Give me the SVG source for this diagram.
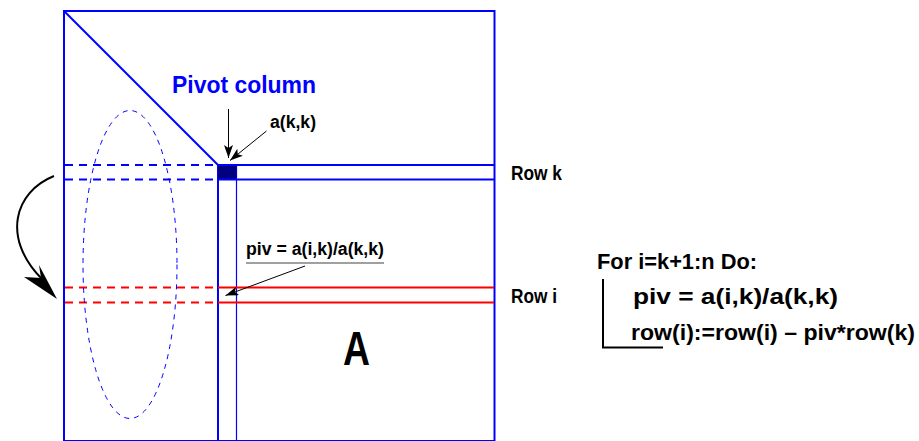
<svg xmlns="http://www.w3.org/2000/svg" width="919" height="441" viewBox="0 0 919 441">
<style>
.blue{stroke:#0000ff;fill:none}
.red{stroke:#ff0000;fill:none}
.t{font-family:"Liberation Sans",Arial,sans-serif;font-weight:bold;fill:#000}
.dash{stroke-dasharray:8 6}
.arr{stroke:#000;stroke-width:1;fill:none}
</style>
<defs>
<marker id="ah" markerUnits="userSpaceOnUse" markerWidth="14" markerHeight="10" refX="13" refY="4.5" orient="auto" viewBox="0 0 14 10">
<path d="M0,0 L13,4.5 L0,9 L3,4.5 z" fill="#000"/>
</marker>
</defs>
<rect width="919" height="441" fill="#fff"/>
<g id="matrix">
<rect class="blue" x="64" y="11" width="430.5" height="430" stroke-width="2"/>
<line class="blue" x1="64" y1="11" x2="218" y2="165" stroke-width="2"/>
</g>
<g id="pivot-column">
<line class="blue" x1="218" y1="165" x2="218" y2="441" stroke-width="2"/>
<line class="blue" x1="236.5" y1="165" x2="236.5" y2="441" stroke-width="1.2"/>
<rect x="218" y="165" width="18.5" height="14.5" fill="#000080"/>
</g>
<g id="row-k">
<line class="blue dash" x1="65" y1="165" x2="218" y2="165" stroke-width="2"/>
<line class="blue dash" x1="65" y1="179.5" x2="218" y2="179.5" stroke-width="2"/>
<line class="blue" x1="218" y1="165" x2="494" y2="165" stroke-width="2"/>
<line class="blue" x1="218" y1="179.5" x2="494" y2="179.5" stroke-width="2"/>
</g>
<g id="row-i">
<line class="red dash" x1="65" y1="287.5" x2="218" y2="287.5" stroke-width="2"/>
<line class="red dash" x1="65" y1="302.5" x2="218" y2="302.5" stroke-width="2"/>
<line class="red" x1="218" y1="287.5" x2="494" y2="287.5" stroke-width="2"/>
<line class="red" x1="218" y1="302.5" x2="494" y2="302.5" stroke-width="2"/>
</g>
<g id="ellipse">
<ellipse class="blue" cx="130" cy="264.5" rx="47" ry="154" stroke-width="1" stroke-dasharray="5 5"/>
</g>
<g id="connectors">
<line class="arr" x1="228.5" y1="109" x2="228.5" y2="158" marker-end="url(#ah)"/>
<line class="arr" x1="266.5" y1="131" x2="230" y2="160.5" marker-end="url(#ah)"/>
<line class="arr" x1="305" y1="266" x2="225.5" y2="295.5" marker-end="url(#ah)"/>
<path d="M54,176 C14,192 2,238 41,278" stroke="#000" stroke-width="2" fill="none"/>
<polygon points="57,299 24,277 41,278 39,265" fill="#000"/>
</g>
<g id="labels">
<text class="t" x="172" y="93" font-size="24" textLength="144" lengthAdjust="spacingAndGlyphs" style="fill:#0000ff">Pivot column</text>
<text class="t" x="270" y="128" font-size="18" textLength="46" lengthAdjust="spacingAndGlyphs">a(k,k)</text>
<text class="t" x="246" y="254.5" font-size="18" textLength="138" lengthAdjust="spacingAndGlyphs">piv = a(i,k)/a(k,k)</text>
<line x1="246" y1="263" x2="384" y2="263" stroke="#808080" stroke-width="1.6"/>
<text class="t" x="511" y="180" font-size="20" textLength="51" lengthAdjust="spacingAndGlyphs">Row k</text>
<text class="t" x="511" y="302.5" font-size="20" textLength="46" lengthAdjust="spacingAndGlyphs">Row i</text>
<text class="t" x="343" y="364.5" font-size="49" textLength="27" lengthAdjust="spacingAndGlyphs">A</text>
</g>
<g id="algorithm">
<text class="t" x="597" y="268.5" font-size="22.5" textLength="160" lengthAdjust="spacingAndGlyphs">For i=k+1:n Do:</text>
<text class="t" x="633" y="303.5" font-size="22.5" textLength="205" lengthAdjust="spacingAndGlyphs">piv = a(i,k)/a(k,k)</text>
<text class="t" x="631" y="340" font-size="22.5" textLength="284" lengthAdjust="spacingAndGlyphs">row(i):=row(i) – piv*row(k)</text>
<polyline points="603,279 603,347.5 663,347.5" stroke="#000" stroke-width="2" fill="none"/>
</g>
</svg>
